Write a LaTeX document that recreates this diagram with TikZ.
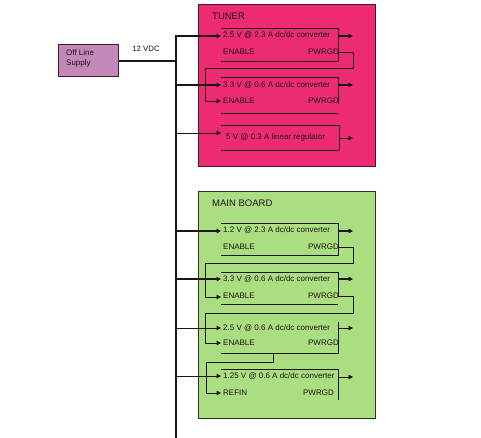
\documentclass[tikz,border=0pt]{standalone}
\usepackage{fontspec}
\setmainfont{Liberation Sans}
\usetikzlibrary{arrows.meta}
\definecolor{tunerfill}{RGB}{237,43,114}
\definecolor{tunerline}{RGB}{80,20,40}
\definecolor{mainfill}{RGB}{170,222,128}
\definecolor{mainline}{RGB}{40,55,30}
\definecolor{supfill}{RGB}{196,136,184}
\definecolor{supline}{RGB}{60,30,50}
\definecolor{ink}{RGB}{30,20,20}
\tikzset{
  lbl/.style={font=\fontsize{8}{9}\selectfont, inner sep=0pt, text=ink},
  ttl/.style={font=\fontsize{9.5}{11}\selectfont, inner sep=0pt, text=ink, anchor=west},
  thinln/.style={line width=0.8pt, draw=ink},
  thickln/.style={line width=1.7pt, draw=ink},
  busln/.style={line width=1.2pt, draw=ink},
  arr/.style={-{Triangle[length=4.5pt,width=4.5pt]}},
  cbox/.style={inner sep=0pt, minimum width=117pt, anchor=north west},
}
\begin{document}
\begin{tikzpicture}[x=1pt,y=-1pt]
\useasboundingbox (0,0) rectangle (481,438);
% supply
\node[draw=supline, line width=0.8pt, fill=supfill, minimum width=60pt, minimum height=32pt, anchor=north west, inner sep=0pt] (sup) at (58,44) {};
\node[lbl, anchor=west, align=left, font=\fontsize{8}{10}\selectfont] (suptxt) at (66,58) {Off Line\\Supply};
\node[lbl, font=\fontsize{7.8}{9}\selectfont] (vdc) at (146,49) {12 VDC};
\coordinate (bustop) at (176,35);
\coordinate (busbot) at (176,438);
\coordinate (bus) at (176,61);
\draw[thickln] (sup.east |- bus) -- (bus);
\draw[busln] (bustop) -- (busbot);

% boards
\node[draw=tunerline, line width=0.9pt, fill=tunerfill, minimum width=177pt, minimum height=162pt, anchor=north west, inner sep=0pt] (tuner) at (198,4) {};
\node[ttl] (tunert) at (212,16) {TUNER};
\node[draw=mainline, line width=0.9pt, fill=mainfill, minimum width=177pt, minimum height=227pt, anchor=north west, inner sep=0pt] (main) at (198,191) {};
\node[ttl] (maint) at (212,203) {MAIN BOARD};

% ---------- TUNER converter 1
\node[cbox, minimum height=33pt] (t1) at (221,28) {};
\draw[thinln] (t1.north west) -- (t1.north east) -- (t1.south east);
\draw[thickln] (t1.south west) -- (t1.south east);
\coordinate (t1in) at (221,36);
\coordinate (t1out) at (353,36);
\draw[thickln, arr] (bus |- t1in) -- (t1in);
\draw[thickln, arr] (t1.east |- t1out) -- (t1out);
\node[lbl, anchor=west] (t1a) at (223,35) {2.5 V @ 2.3 A dc/dc converter};
\node[lbl, anchor=west] (t1e) at (223,52) {ENABLE};
\node[lbl, anchor=east] (t1p) at (339,52) {PWRGD};

% ---------- TUNER converter 2
\node[cbox, minimum height=27pt] (t2) at (221,77) {};
\draw[thinln] (t2.north west) -- (t2.north east) -- (t2.south east);
\coordinate (t2b) at (221,113);
\draw[thinln] (t2b) -- ++(117,0);
\coordinate (t2in) at (221,85);
\coordinate (t2out) at (353,85);
\draw[thickln, arr] (bus |- t2in) -- (t2in);
\draw[thickln, arr] (t2.east |- t2out) -- (t2out);
\node[lbl, anchor=west] (t2a) at (223,85) {3.3 V @ 0.6 A dc/dc converter};
\node[lbl, anchor=west] (t2e) at (223,101) {ENABLE};
\node[lbl, anchor=east] (t2p) at (339,101) {PWRGD};
\coordinate (t2en) at (221,101);
\draw[thinln, arr] (t1.east |- t1p) -- (353,52) -- (353,68) -- (205,68) -- (205,101) -- (t2en);

% ---------- TUNER linear regulator
\node[cbox, minimum height=25pt, minimum width=118pt] (t3) at (221,125) {};
\draw[thinln] (t3.north west) -- (t3.north east) -- (t3.south east);
\draw[thickln] (t3.south west) -- (t3.south east);
\coordinate (t3in) at (221,133);
\coordinate (t3out) at (353,138);
\draw[thinln, arr] (bus |- t3in) -- (t3in);
\draw[thinln, arr] (t3.east |- t3out) -- (t3out);
\node[lbl, anchor=west] (t3a) at (226,137) {5 V @ 0.3 A linear regulator};

% ---------- MAIN converter 1
\node[cbox, minimum height=32pt] (m1) at (221,223) {};
\draw[thinln] (m1.north west) -- (m1.north east) -- (m1.south east) -- (m1.south west);
\coordinate (m1in) at (221,231);
\coordinate (m1out) at (353,231);
\draw[thickln, arr] (bus |- m1in) -- (m1in);
\draw[thickln, arr] (m1.east |- m1out) -- (m1out);
\node[lbl, anchor=west] (m1a) at (223,230) {1.2 V @ 2.3 A dc/dc converter};
\node[lbl, anchor=west] (m1e) at (223,247) {ENABLE};
\node[lbl, anchor=east] (m1p) at (339,247) {PWRGD};

% ---------- MAIN converter 2
\node[cbox, minimum height=25pt] (m2) at (221,272) {};
\draw[thinln] (m2.north west) -- (m2.north east) -- (m2.south east);
\coordinate (m2b) at (221,304);
\draw[thinln] (m2b) -- ++(117,0);
\coordinate (m2in) at (221,279);
\coordinate (m2out) at (353,279);
\draw[thickln, arr] (bus |- m2in) -- (m2in);
\draw[thickln, arr] (m2.east |- m2out) -- (m2out);
\node[lbl, anchor=west] (m2a) at (223,279) {3.3 V @ 0.6 A dc/dc converter};
\node[lbl, anchor=west] (m2e) at (223,296) {ENABLE};
\node[lbl, anchor=east] (m2p) at (339,296) {PWRGD};
\coordinate (m2en) at (221,297);
\draw[thinln, arr] (m1.east |- m1p) -- (353,247) -- (353,263) -- (205,263) -- (205,297) -- (m2en);

% ---------- MAIN converter 3
\node[cbox, minimum height=31pt] (m3) at (221,322) {};
\draw[thinln] (m3.north east) -- (m3.south east) -- (m3.south west);
\coordinate (m3in) at (221,328);
\coordinate (m3out) at (353,328);
\draw[thinln, arr] (bus |- m3in) -- (m3in);
\draw[thinln, arr] (m3.east |- m3out) -- (m3out);
\node[lbl, anchor=west] (m3a) at (223,328) {2.5 V @ 0.6 A dc/dc converter};
\node[lbl, anchor=west] (m3e) at (223,343) {ENABLE};
\node[lbl, anchor=east] (m3p) at (339,343) {PWRGD};
\coordinate (m3en) at (221,343);
\draw[thinln, arr] (m2.east |- m2p) -- (353,296) -- (353,313) -- (205,313) -- (205,343) -- (m3en);

% ---------- MAIN converter 4
\node[cbox, minimum height=31pt] (m4) at (221,369) {};
\draw[thinln] (m4.north west) -- (m4.north east) -- (m4.south east);
\coordinate (m4in) at (221,376);
\coordinate (m4out) at (353,377);
\draw[thinln, arr] (bus |- m4in) -- (m4in);
\draw[thinln, arr] (m4.east |- m4out) -- (m4out);
\node[lbl, anchor=west] (m4a) at (223,376) {1.25 V @ 0.6 A dc/dc converter};
\node[lbl, anchor=west] (m4e) at (223,393) {REFIN};
\node[lbl, anchor=east] (m4p) at (334,393) {PWRGD};
\coordinate (m4en) at (221,393);
\coordinate (m3tap) at (273,353);
\draw[thinln, arr] (m3tap) -- (273,362) -- (206,362) -- (206,393) -- (m4en);
\end{tikzpicture}
\end{document}
